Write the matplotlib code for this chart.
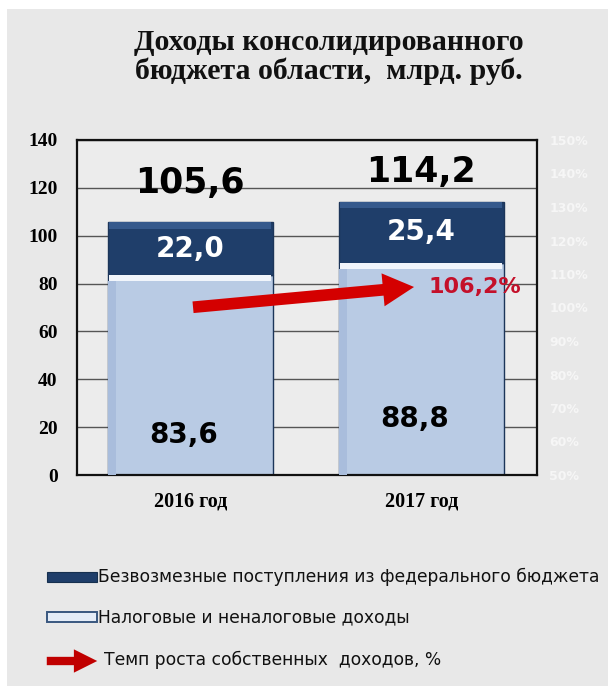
import numpy as np
import matplotlib
matplotlib.use('Agg')
import matplotlib.pyplot as plt
from matplotlib.patches import Rectangle, FancyArrowPatch

# данные: доходы консолидированного бюджета, млрд. руб.
years = ['2016 год', '2017 год']
own_income = [83.6, 88.8]        # налоговые и неналоговые доходы
federal = [22.0, 25.4]           # безвозмездные поступления
total = [105.6, 114.2]
growth = [100.0, 106.2]          # темп роста собственных доходов, %

own_lbl = ['83,6', '88,8']
fed_lbl = ['22,0', '25,4']
tot_lbl = ['105,6', '114,2']
growth_lbl = '106,2%'

dark = '#1f3e6a'
light = '#b9cbe4'
edge = '#1c3559'
red = '#d40000'

W, H = 614, 686
fig = plt.figure(figsize=(W / 100, H / 100), dpi=100)
fig.patch.set_facecolor('white')
fig.patches.append(Rectangle((7 / W, 0), 601 / W, 677 / H, transform=fig.transFigure,
                             facecolor='#e8e8e8', edgecolor='none', zorder=-10))

fig.text(0.535, 1 - 57 / H, 'Доходы консолидированного\nбюджета области,  млрд. руб.',
         ha='center', va='center', fontsize=21.5, fontweight='bold',
         family='Liberation Serif', linespacing=1.05, color='#111111')

ax = fig.add_axes([77 / W, 1 - 475 / H, 460 / W, 335 / H])
ax.set_facecolor('#ececec')
x = np.arange(len(years))
bw = 0.715
ax.bar(x, own_income, width=bw, color=light, edgecolor=edge, lw=1, zorder=2)
ax.bar(x, federal, bottom=own_income, width=bw, color=dark, edgecolor=edge, lw=1, zorder=2)
# блики на гранях столбиков
own = np.array(own_income)
tot = np.array(total)
ax.bar(x, 2.6, bottom=own - 2.6, width=bw * 0.98, color='#f1f5fb', lw=0, zorder=3)
ax.bar(x, 2.8, bottom=tot - 2.8, width=bw * 0.98, color='#35598c', lw=0, zorder=3)
ax.bar(x - bw / 2 + 0.02, own - 2.6, width=0.035, color='#a9bddc', lw=0, zorder=3)

ax.set_xlim(-0.49, 1.50)
ax.set_ylim(0, 140)
ax.set_yticks(np.arange(0, 141, 20))
ax.set_xticks(x)
ax.set_xticklabels(years)
ax.yaxis.grid(True, color='#555555', lw=1)
ax.set_axisbelow(True)
for s in ax.spines.values():
    s.set_color('#111111')
    s.set_linewidth(1.6)
ax.tick_params(length=0)
ax.tick_params(axis='y', pad=14)
ax.tick_params(axis='x', pad=12)
for lab in ax.get_yticklabels():
    lab.set_fontfamily('Liberation Serif')
    lab.set_fontweight('bold')
    lab.set_fontsize(14)
for lab in ax.get_xticklabels():
    lab.set_fontfamily('Liberation Serif')
    lab.set_fontweight('bold')
    lab.set_fontsize(14.5)

# подписи значений
top_y = [122.0, 126.6]
low_y = [16.7, 23.4]
for i in x:
    ax.text(i, top_y[i], tot_lbl[i], ha='center', va='center', fontsize=25,
            fontweight='bold', color='black')
    ax.text(i, own_income[i] + federal[i] / 2, fed_lbl[i], ha='center', va='center',
            fontsize=20, fontweight='bold', color='white', zorder=5)
    ax.text(i - 0.03, low_y[i], own_lbl[i], ha='center', va='center', fontsize=20,
            fontweight='bold', color='black', zorder=5)

# вторая ось: темп роста, %
ax2 = ax.twinx()
ax2.set_ylim(50, 150)
ax2.set_yticks(np.arange(50, 151, 10))
ax2.set_yticklabels([f'{v}%' for v in range(50, 151, 10)], color='#f6f6f6',
                    fontsize=9, fontweight='bold')
ax2.tick_params(length=0, pad=9)
for s in ax2.spines.values():
    s.set_visible(False)
ax2.add_patch(FancyArrowPatch((0, growth[0]), (0.98, growth[1]),
                              arrowstyle='simple,head_length=1.6,head_width=1.7,tail_width=0.6',
                              mutation_scale=14, color=red, lw=0, zorder=6))
ax2.text(1.03, growth[1], growth_lbl, ha='left', va='center', fontsize=16,
         fontweight='bold', color='#c4102a', zorder=6)

# легенда
fig.patches.append(Rectangle((47 / W, 1 - 582 / H), 50 / W, 10 / H, transform=fig.transFigure,
                             facecolor=dark, edgecolor='#16304f', lw=0.8))
fig.patches.append(Rectangle((47 / W, 1 - 622 / H), 50 / W, 10 / H, transform=fig.transFigure,
                             facecolor='#e4ecf7', edgecolor='#39577f', lw=1.4))
fig.patches.append(FancyArrowPatch((44 / W, 1 - 661 / H), (100 / W, 1 - 661 / H),
                                   transform=fig.transFigure,
                                   arrowstyle='simple,head_length=1.4,head_width=1.4,tail_width=0.5',
                                   mutation_scale=12, color='#c00000', lw=0))
leg_font = dict(family='DejaVu Sans', fontsize=12.3, color='#111111', va='center', ha='left')
fig.text(98 / W, 1 - 577 / H, 'Безвозмезные поступления из федерального бюджета', **leg_font)
fig.text(98 / W, 1 - 617 / H, 'Налоговые и неналоговые доходы', **leg_font)
fig.text(104 / W, 1 - 660 / H, 'Темп роста собственных  доходов, %', **leg_font)

fig.savefig('out.png', dpi=100)
